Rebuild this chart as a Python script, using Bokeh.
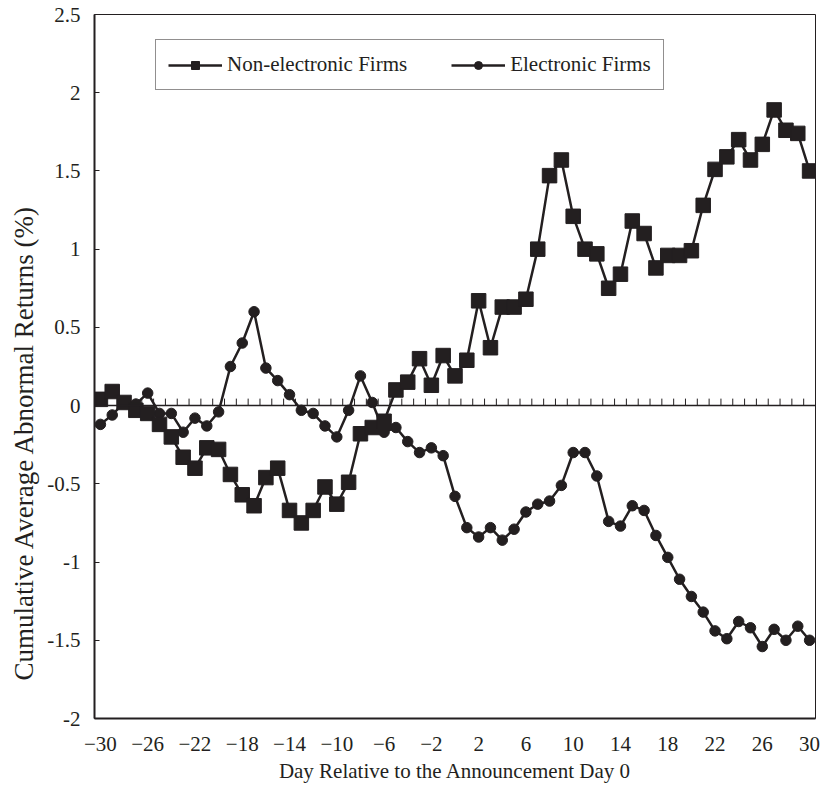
import numpy as np
from bokeh.plotting import figure
from bokeh.models import (Range1d, FixedTicker, CustomJSTickFormatter, Span,
                          Legend, LegendItem, ColumnDataSource, Title)
from bokeh.embed import file_html
from bokeh.resources import INLINE

# ---------------- data ----------------
days = list(range(-30, 31))
non_electronic = [0.04, 0.09, 0.02, -0.03, -0.05, -0.12, -0.20, -0.33, -0.40, -0.27,
                  -0.28, -0.44, -0.57, -0.64, -0.46, -0.40, -0.67, -0.75, -0.67, -0.52,
                  -0.63, -0.49, -0.18, -0.14, -0.10, 0.10, 0.15, 0.30, 0.13, 0.32,
                  0.19, 0.29, 0.67, 0.37, 0.63, 0.63, 0.68, 1.00, 1.47, 1.57,
                  1.21, 1.00, 0.97, 0.75, 0.84, 1.18, 1.10, 0.88, 0.96, 0.96,
                  0.99, 1.28, 1.51, 1.59, 1.70, 1.57, 1.67, 1.89, 1.76, 1.74, 1.50]
electronic = [-0.12, -0.06, 0.02, 0.01, 0.08, -0.05, -0.05, -0.17, -0.08, -0.13,
              -0.04, 0.25, 0.40, 0.60, 0.24, 0.16, 0.07, -0.03, -0.05, -0.13,
              -0.20, -0.03, 0.19, 0.02, -0.17, -0.14, -0.23, -0.30, -0.27, -0.32,
              -0.58, -0.78, -0.84, -0.78, -0.86, -0.79, -0.68, -0.63, -0.61, -0.51,
              -0.30, -0.30, -0.45, -0.74, -0.77, -0.64, -0.67, -0.83, -0.97, -1.11,
              -1.22, -1.32, -1.44, -1.49, -1.38, -1.42, -1.54, -1.43, -1.50, -1.41, -1.50]
x_tick_labels = list(range(-30, 31, 4))
y_ticks = [-2, -1.5, -1, -0.5, 0, 0.5, 1, 1.5, 2, 2.5]

FONT = "Liberation Serif"
INK = "#231f20"

p = figure(width=820, height=788, output_backend="svg", toolbar_location=None,
           x_range=Range1d(-30.5, 30.5), y_range=Range1d(-2, 2.5),
           min_border_left=94, min_border_right=5, min_border_top=14,
           min_border_bottom=70)
p.background_fill_color = "white"
p.border_fill_color = "white"
p.outline_line_color = INK
p.outline_line_width = 1
p.xgrid.visible = False
p.ygrid.visible = False

# y axis
p.yaxis.ticker = FixedTicker(ticks=y_ticks)
p.yaxis.formatter = CustomJSTickFormatter(code="return tick.toString();")
p.yaxis.major_tick_in = 5
p.yaxis.major_tick_out = 0
p.yaxis.minor_tick_in = 0
p.yaxis.minor_tick_out = 0
p.yaxis.axis_line_color = INK
p.yaxis.axis_line_width = 2
p.yaxis.major_tick_line_color = INK
p.yaxis.major_tick_line_width = 1
p.yaxis.major_label_standoff = 14
p.yaxis.major_label_text_font = FONT
p.yaxis.major_label_text_font_size = "21px"
p.yaxis.major_label_text_color = INK

# y axis title, a little below the frame centre as in the reference
ytitle = Title(text="Cumulative Average Abnormal Returns (%)", align="left", offset=38,
               text_font=FONT, text_font_size="27px", text_font_style="normal",
               text_color=INK, standoff=12)
p.add_layout(ytitle, "left")

# x axis (labels at bottom)
p.xaxis.ticker = FixedTicker(ticks=x_tick_labels)
p.xaxis.major_tick_in = 0
p.xaxis.major_tick_out = 0
p.xaxis.minor_tick_in = 0
p.xaxis.minor_tick_out = 0
p.xaxis.axis_line_color = INK
p.xaxis.axis_line_width = 2
p.xaxis.major_label_standoff = 18
p.xaxis.major_label_text_font = FONT
p.xaxis.major_label_text_font_size = "21px"
p.xaxis.major_label_text_color = INK
p.xaxis.axis_label = "Day Relative to the Announcement Day 0"
p.xaxis.axis_label_text_font = FONT
p.xaxis.axis_label_text_font_style = "normal"
p.xaxis.axis_label_text_font_size = "21px"
p.xaxis.axis_label_text_color = INK
p.xaxis.axis_label_standoff = 5

# zero line with day tick marks (category boundaries)
p.add_layout(Span(location=0, dimension="width", line_color=INK, line_width=1.5))
tick_x = np.arange(days[0] - 0.5, days[-1] + 1.0, 1.0)
tick_h = 7 * (2.5 - (-2)) / 704.0
p.segment(x0=tick_x, y0=np.zeros_like(tick_x), x1=tick_x, y1=np.full_like(tick_x, tick_h),
          line_color=INK, line_width=1)

src = ColumnDataSource(dict(day=days, ne=non_electronic, el=electronic))

# Electronic (circles)
l2 = p.line("day", "el", source=src, line_color=INK, line_width=2.5)
s2 = p.scatter("day", "el", source=src, marker="circle", size=10.5,
               fill_color=INK, line_color=INK)
# Non-electronic (squares)
l1 = p.line("day", "ne", source=src, line_color=INK, line_width=2.5)
s1 = p.scatter("day", "ne", source=src, marker="square", size=14.5,
               fill_color=INK, line_color=INK)

legend = Legend(items=[LegendItem(label="Non-electronic Firms", renderers=[l1, s1]),
                       LegendItem(label="Electronic Firms", renderers=[l2, s2])],
                orientation="horizontal", location=(61, 628))
legend.glyph_width = 54
legend.glyph_height = 20
legend.label_standoff = 5
legend.spacing = 44
legend.padding = 12
legend.margin = 0
legend.border_line_color = INK
legend.border_line_width = 1.5
legend.label_text_font = FONT
legend.label_text_font_size = "21px"
legend.label_text_color = INK
legend.background_fill_alpha = 1
p.add_layout(legend)

open("out.html", "w").write(file_html(p, INLINE))
